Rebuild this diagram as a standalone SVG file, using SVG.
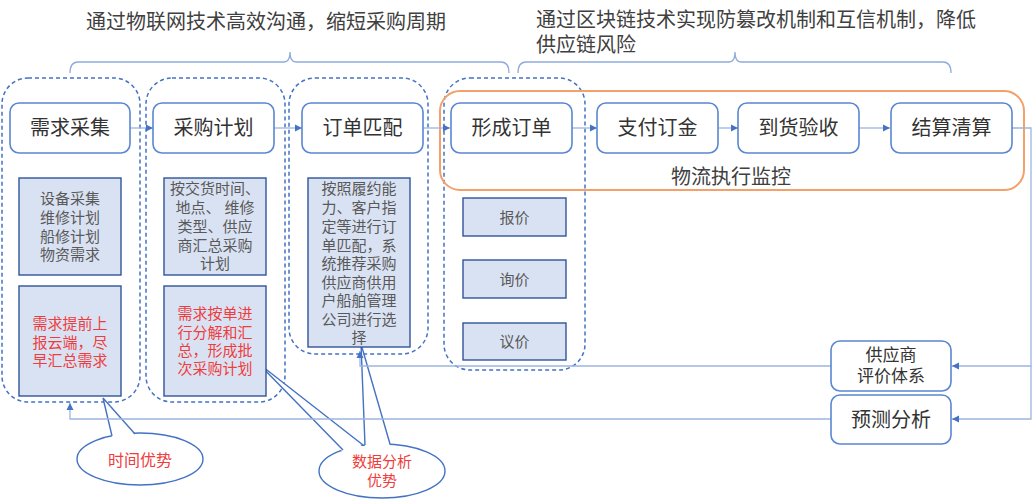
<svg xmlns="http://www.w3.org/2000/svg" width="1032" height="500" viewBox="0 0 1032 500">
<defs>
<marker id="arr" markerWidth="8" markerHeight="8" refX="7" refY="4" orient="auto" markerUnits="userSpaceOnUse">
<path d="M0,0.5 L7,4 L0,7.5 Z" fill="#4472C4"/>
</marker>
<style>
text{font-family:"Liberation Sans","Noto Sans CJK SC",sans-serif;text-anchor:middle}
.title{font-size:20px;fill:#404040;text-anchor:start}
.brace{fill:none;stroke:#8FAADC;stroke-width:1.3}
.grp{fill:none;stroke:#4472C4;stroke-width:1.5;stroke-dasharray:4 3}
.proc{fill:#fff;stroke:#5B86D0;stroke-width:1.6}
.ptxt{font-size:20px;fill:#333}
.note{fill:#D9E2F3;stroke:#2F5597;stroke-width:1.4}
.ntxt{font-size:15px;fill:#595959}
.rtxt{font-size:15px;fill:#F03C3C}
.conn{fill:none;stroke:#9DB5E0;stroke-width:1.3}
.call{fill:#fff;stroke:#4472C4;stroke-width:1.4}
</style>
</defs>
<rect width="1032" height="500" fill="#fff"/>

<g id="titles">
<text class="title" x="86" y="29">通过物联网技术高效沟通，缩短采购周期</text>
<text class="title" x="536" y="27">通过区块链技术实现防篡改机制和互信机制，降低</text>
<text class="title" x="536" y="52">供应链风险</text>
<path class="brace" d="M70,73 Q70,62 78,62 H284 Q290,62 290,52 Q290,62 296,62 H501 Q509,62 509,73"/>
<path class="brace" d="M518,73 Q518,62 526,62 H729 Q735,62 735,52 Q735,62 741,62 H943 Q951,62 951,73"/>
</g>

<g id="containers">
<rect class="grp" x="2" y="78" width="138" height="324" rx="26"/>
<rect class="grp" x="146" y="78" width="139" height="324" rx="26"/>
<rect class="grp" x="289" y="78" width="139" height="276" rx="26"/>
<rect class="grp" x="444" y="78" width="141" height="292" rx="26"/>
<rect id="logistics" x="440" y="91" width="584" height="99" rx="20" fill="none" stroke="#F4A06A" stroke-width="2"/>
<text x="731" y="184" font-size="20" fill="#404040">物流执行监控</text>
</g>

<g id="callout-time">
<ellipse class="call" cx="140" cy="459" rx="63" ry="26"/>
<polygon points="103,398 112,437 135,435" fill="#fff"/>
<polyline points="112,436 103,398 135,434" fill="none" stroke="#4472C4" stroke-width="1.4"/>
<text x="140" y="466" font-size="16" fill="#F03C3C">时间优势</text>
</g>

<g id="callout-data">
<ellipse class="call" cx="382" cy="471" rx="63" ry="27"/>
<polygon points="361,344 365,447 390,446" fill="#fff"/>
<polygon points="258,363 343,452 363,447" fill="#fff"/>
<polyline points="365,445 361,344 390,444" fill="none" stroke="#4472C4" stroke-width="1.4"/>
<polyline points="343,450 258,363 363,445" fill="none" stroke="#4472C4" stroke-width="1.4"/>
<text x="382" y="467" font-size="15" fill="#F03C3C">数据分析</text>
<text x="382" y="486" font-size="15" fill="#F03C3C">优势</text>
</g>

<g id="connectors">
<line class="conn" x1="130" y1="128" x2="153" y2="128" marker-end="url(#arr)"/>
<line class="conn" x1="274" y1="128" x2="302" y2="128" marker-end="url(#arr)"/>
<line class="conn" x1="423" y1="128" x2="450" y2="128" marker-end="url(#arr)"/>
<line class="conn" x1="572" y1="128" x2="597" y2="128" marker-end="url(#arr)"/>
<line class="conn" x1="718" y1="128" x2="738" y2="128" marker-end="url(#arr)"/>
<line class="conn" x1="859" y1="128" x2="890" y2="128" marker-end="url(#arr)"/>
<polyline class="conn" points="1012,128 1031,128 1031,366 952,366" marker-end="url(#arr)"/>
<polyline class="conn" points="1031,366 1031,419 952,419" marker-end="url(#arr)"/>
<polyline class="conn" points="831,366 360,366 360,351" marker-end="url(#arr)"/>
<polyline class="conn" points="831,419 70,419 70,403" marker-end="url(#arr)"/>
</g>

<g id="n-xuqiu">
<rect class="proc" x="10" y="103" width="120" height="50" rx="9"/>
<text class="ptxt" x="70" y="135">需求采集</text>
</g>
<g id="n-caigou">
<rect class="proc" x="153" y="103" width="121" height="50" rx="9"/>
<text class="ptxt" x="213.5" y="135">采购计划</text>
</g>
<g id="n-pipei">
<rect class="proc" x="302" y="103" width="121" height="50" rx="9"/>
<text class="ptxt" x="362.5" y="135">订单匹配</text>
</g>
<g id="n-xingcheng">
<rect class="proc" x="451" y="103" width="121" height="50" rx="9"/>
<text class="ptxt" x="511.5" y="135">形成订单</text>
</g>
<g id="n-zhifu">
<rect class="proc" x="597" y="103" width="121" height="50" rx="9"/>
<text class="ptxt" x="657.5" y="135">支付订金</text>
</g>
<g id="n-daohuo">
<rect class="proc" x="738" y="103" width="121" height="50" rx="9"/>
<text class="ptxt" x="798.5" y="135">到货验收</text>
</g>
<g id="n-jiesuan">
<rect class="proc" x="891" y="103" width="121" height="50" rx="9"/>
<text class="ptxt" x="951.5" y="135">结算清算</text>
</g>

<g id="t1">
<rect class="note" x="19" y="178" width="102" height="97"/>
<text class="ntxt" x="70" y="203.5">设备采集</text>
<text class="ntxt" x="70" y="222.5">维修计划</text>
<text class="ntxt" x="70" y="241.5">船修计划</text>
<text class="ntxt" x="70" y="259.5">物资需求</text>
</g>
<g id="t2">
<rect class="note" x="164" y="178" width="102" height="97"/>
<text class="ntxt" x="215" y="193.5">按交货时间、</text>
<text class="ntxt" x="215" y="212.5">地点、 维修</text>
<text class="ntxt" x="215" y="231.5">类型、供应</text>
<text class="ntxt" x="215" y="250.5">商汇总采购</text>
<text class="ntxt" x="215" y="268.5">计划</text>
</g>
<g id="t3">
<rect class="note" x="308" y="178" width="102" height="169"/>
<text class="ntxt" x="359" y="193.5">按照履约能</text>
<text class="ntxt" x="359" y="212.5">力、客户指</text>
<text class="ntxt" x="359" y="231.5">定等进行订</text>
<text class="ntxt" x="359" y="250.5">单匹配，系</text>
<text class="ntxt" x="359" y="268.5">统推荐采购</text>
<text class="ntxt" x="359" y="287.5">供应商供用</text>
<text class="ntxt" x="359" y="305.5">户船舶管理</text>
<text class="ntxt" x="359" y="324.5">公司进行选</text>
<text class="ntxt" x="359" y="342.5">择</text>
</g>
<g id="t4">
<rect class="note" x="19" y="286" width="102" height="110"/>
<text class="rtxt" x="70" y="328.5">需求提前上</text>
<text class="rtxt" x="70" y="347.5">报云端，尽</text>
<text class="rtxt" x="70" y="365.5">早汇总需求</text>
</g>
<g id="t5">
<rect class="note" x="164" y="286" width="102" height="110"/>
<text class="rtxt" x="215" y="318.5">需求按单进</text>
<text class="rtxt" x="215" y="337.5">行分解和汇</text>
<text class="rtxt" x="215" y="355.5">总，形成批</text>
<text class="rtxt" x="215" y="373.5">次采购计划</text>
</g>
<g id="n-baojia">
<rect class="note" x="463" y="198" width="103" height="38"/>
<text class="ntxt" x="514.5" y="222.5" font-size="16">报价</text>
</g>
<g id="n-xunjia">
<rect class="note" x="463" y="260" width="103" height="38"/>
<text class="ntxt" x="514.5" y="284.5" font-size="16">询价</text>
</g>
<g id="n-yijia">
<rect class="note" x="463" y="323" width="103" height="37"/>
<text class="ntxt" x="514.5" y="347" font-size="16">议价</text>
</g>

<g id="n-pingjia">
<rect class="proc" x="831" y="341" width="120" height="50" rx="9"/>
<text x="891" y="361" font-size="17" fill="#333">供应商</text>
<text x="891" y="382" font-size="17" fill="#333">评价体系</text>
</g>
<g id="n-yuce">
<rect class="proc" x="831" y="395" width="120" height="49" rx="9"/>
<text class="ptxt" x="891" y="427">预测分析</text>
</g>
</svg>
